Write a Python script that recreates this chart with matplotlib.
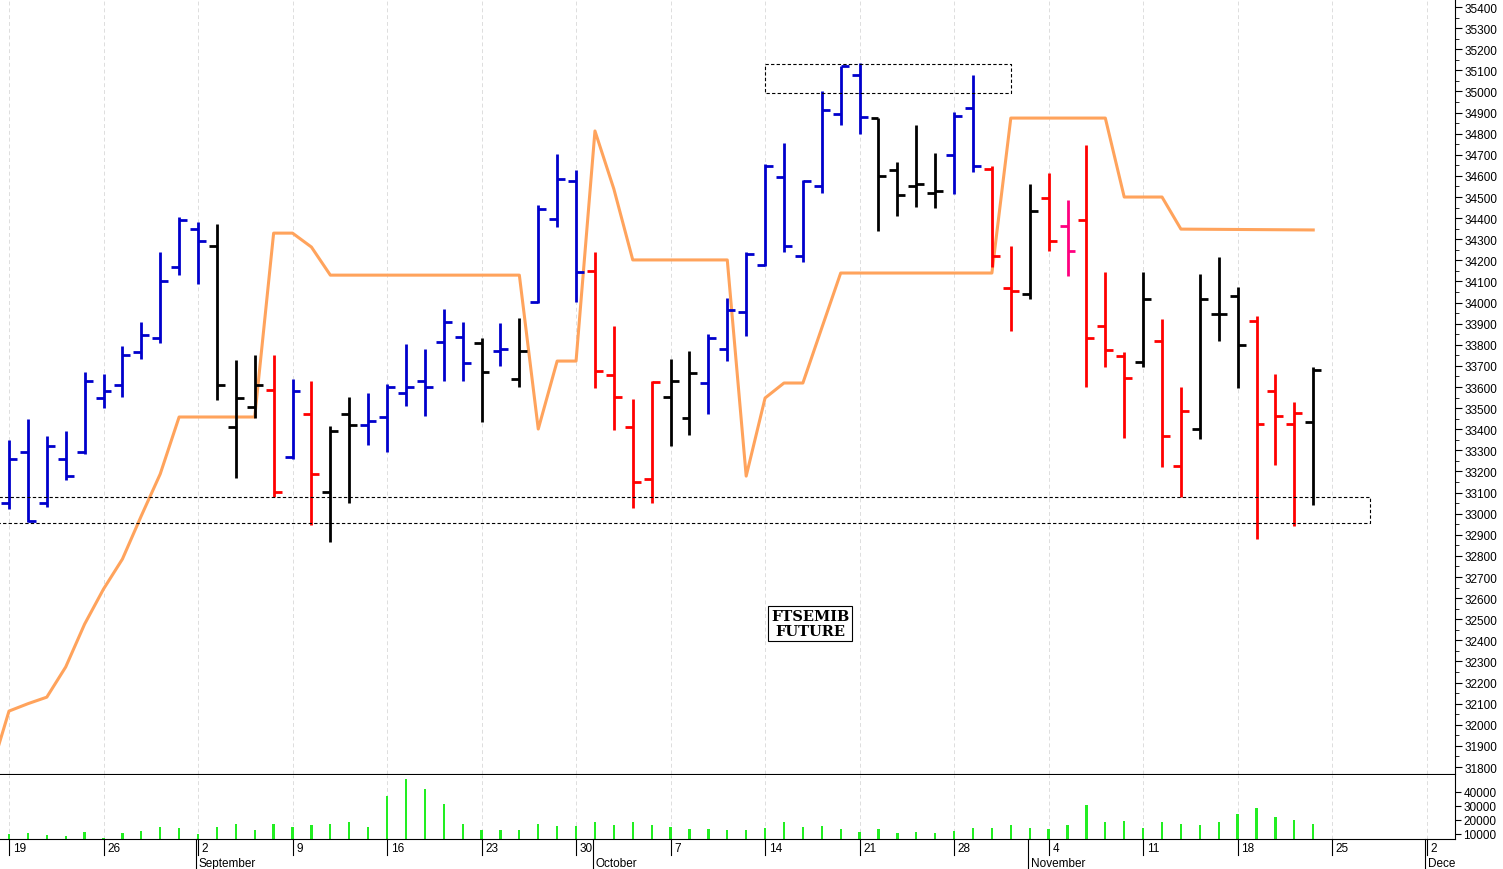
import matplotlib
matplotlib.use("Agg")
import matplotlib.pyplot as plt
import matplotlib.transforms as mtransforms
from matplotlib.ticker import MultipleLocator
import numpy as np

plt.rcParams['font.family'] = ['Liberation Sans', 'DejaVu Sans']

opens = [33050,33290,33050,33260,33290,33550,33610,33765,33830,34170,34350,34270,33410,33505,33585,33270,33470,33105,33470,33420,
         33460,33570,33630,33815,33835,33810,33770,33640,34005,34395,34575,34150,33655,33410,33165,33555,33455,33620,33780,33955,
         34180,34595,34220,34550,34895,35080,34875,34630,34550,34520,34700,34920,34635,34070,34040,34495,34365,34390,33890,33745,
         33720,33820,33225,33400,33945,34030,33915,33580,33425,33435]
highs = [33350,33450,33370,33390,33670,33660,33795,33910,34240,34405,34380,34370,33730,33750,33750,33640,33630,33415,33555,33570,
         33615,33805,33780,33970,33910,33830,33905,33925,34460,34705,34630,34240,33890,33545,33630,33735,33770,33850,34020,34240,
         34655,34755,34580,35000,35120,35135,34875,34665,34840,34710,34905,35080,34645,34270,34560,34615,34485,34745,34145,33765,
         34145,33920,33600,34135,34215,34075,33935,33660,33530,33695]
lows = [33020,32960,33030,33160,33285,33500,33555,33735,33810,34130,34090,33540,33170,33455,33080,33260,32945,32865,33050,33325,
        33290,33510,33465,33630,33630,33435,33700,33600,34000,34360,34005,33595,33395,33025,33050,33320,33375,33470,33725,33840,
        34175,34240,34190,34520,34840,34800,34340,34410,34455,34450,34515,34620,34170,33865,34015,34245,34125,33600,33695,33360,
        33695,33220,33080,33355,33820,33595,32880,33230,32940,33040]
closes = [33260,32965,33320,33180,33630,33580,33750,33845,34100,34390,34290,33610,33550,33610,33105,33580,33190,33390,33420,33440,
          33600,33600,33600,33910,33715,33670,33780,33770,34445,34585,34145,33675,33555,33150,33625,33630,33665,33830,33965,34230,
          34645,34270,34575,34910,35120,34880,34600,34510,34560,34530,34885,34645,34220,34055,34435,34290,34245,33830,33775,33645,
          34015,33370,33485,34015,33945,33800,33425,33465,33475,33680]
bar_colors = (['b']*11 + ['k']*3 + ['r','b','r','k','k'] + ['b']*6 + ['k','b','k','b','b','b'] + ['r']*4 + ['k','k'] +
              ['b']*9 + ['k']*4 + ['b','b','r','r','k','r','p','r','r','r','k','r','r','k','k','k','r','r','r','k'])
volumes_k = [10.0,10.7,9.3,8.6,11.4,7.1,10.7,12.1,15.0,14.3,10.0,15.0,17.1,12.9,17.1,15.0,16.4,17.1,18.6,15.0,
             37.1,49.3,42.1,31.4,17.1,12.9,12.9,12.9,17.1,15.7,15.7,18.6,16.4,18.6,16.4,15.0,13.6,13.6,12.9,12.9,
             14.3,18.6,15.0,15.7,13.6,11.4,13.6,10.7,11.4,10.7,12.1,14.3,14.3,16.4,14.3,13.6,16.4,30.7,18.6,19.3,
             14.3,18.6,17.1,16.4,18.6,24.3,28.6,22.1,20.0,17.1]
line_idx = [-1,0,1,2,3,4,5,6,7,8,9,13,14,15,16,17,27,28,29,30,31,32,33,38,39,40,41,42,43,44,52,53,58,59,61,62,69]
line_val = [31767,32065,32100,32131,32274,32477,32643,32785,32990,33188,33458,33458,34329,34329,34263,34130,34130,33401,33723,33723,
            34813,34538,34202,34202,33178,33548,33619,33619,33880,34140,34140,34874,34874,34500,34500,34348,34344]
week_labels = ['19','26','2','9','16','23','30','7','14','21','28','4','11','18','25','2']
month_labels = ['September','October','November','Dece']
month_idx = [10,31,54,75]

cmap = {'b':'#0000CC','r':'#FF0000','k':'#000000','p':'#FF0080'}

fig = plt.figure(figsize=(15.03,8.7), dpi=100)
ax = fig.add_axes([0, 1-775/870, 1455/1503, 775/870])
axv = fig.add_axes([0, 1-840/870, 1455/1503, 64/870], sharex=ax)

xmin, xmax = -0.476, 76.5
ax.set_xlim(xmin, xmax)
ax.set_ylim(31767, 35438)

n = len(opens)
idx = np.arange(n)
tl = 0.42
for i in range(n):
    c = cmap[bar_colors[i]]
    ax.plot([i,i],[lows[i],highs[i]], color=c, lw=2.0, solid_capstyle='butt')
    ax.plot([i-tl,i],[opens[i],opens[i]], color=c, lw=2.0, solid_capstyle='butt')
    ax.plot([i,i+tl],[closes[i],closes[i]], color=c, lw=2.0, solid_capstyle='butt')

ax.plot(line_idx, line_val, color='#FFA35C', lw=2.2, zorder=1)

ax.plot([40,53,53,40,40],[35130,35130,34995,34995,35130], color='k', lw=0.8, ls=(0,(3,2)))
ax.plot([-1,72,72,-1],[33080,33080,32956,32956], color='k', lw=0.8, ls=(0,(3,2)))

ax.text(42.4, 32480, 'FTSEMIB\nFUTURE', ha='center', va='center', fontsize=10.5, fontweight='bold',
        family=['DejaVu Serif'], linespacing=1.05,
        bbox=dict(boxstyle='square,pad=0.2', fc='white', ec='k', lw=0.8))

weeks = np.arange(0, 80, 5)
for a in (ax, axv):
    for w in weeks:
        a.axvline(w, color='#dddddd', lw=0.7, ls=(0,(4,3)), zorder=0)

ax.yaxis.tick_right()
ax.set_yticks(np.arange(31800, 35401, 100))
ax.yaxis.set_minor_locator(MultipleLocator(50))
ax.tick_params(axis='y', which='major', length=5, labelsize=8.5, pad=2)
ax.tick_params(axis='y', which='minor', length=3)
ax.tick_params(axis='x', bottom=False, labelbottom=False)
for s in ['top','left']:
    ax.spines[s].set_visible(False)

axv.bar(idx, volumes_k, width=0.12, color='#22EE22')
axv.set_ylim(6.4, 52.1)
axv.yaxis.tick_right()
axv.set_yticks([10,20,30,40])
axv.set_yticklabels(['10000','20000','30000','40000'])
axv.tick_params(axis='y', length=4, labelsize=8.5, pad=2)
axv.tick_params(axis='x', bottom=False, labelbottom=False)
for s in ['top','left']:
    axv.spines[s].set_visible(False)

tr = mtransforms.blended_transform_factory(axv.transData, axv.transAxes)
for w, lab in zip(weeks, week_labels):
    axv.plot([w,w],[0,-0.25], color='k', lw=0.8, transform=tr, clip_on=False)
    axv.text(w+0.2, -0.14, lab, transform=tr, fontsize=8.5, va='center', ha='left', clip_on=False)
for m, lab in zip(month_idx, month_labels):
    axv.plot([m-0.1,m-0.1],[0,-0.47], color='k', lw=0.8, transform=tr, clip_on=False)
    axv.text(m+0.05, -0.37, lab, transform=tr, fontsize=8.5, va='center', ha='left', clip_on=False)

fig.savefig('out.png', dpi=100)
